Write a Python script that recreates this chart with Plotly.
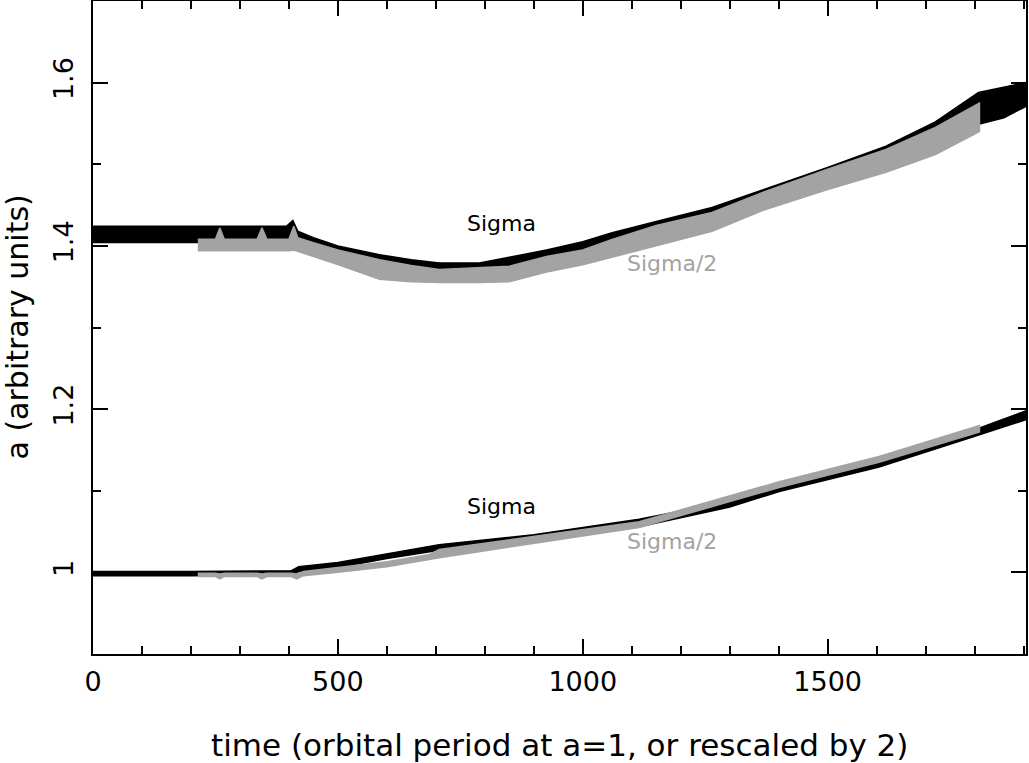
import plotly.graph_objects as go

# ---- data (time, band upper edge, band lower edge) ----
# upper pair, "Sigma" (black)
up_sig_t  = [0, 100, 200, 300, 395, 408, 418, 450, 500, 585, 650, 707, 789, 850, 926, 1000, 1060, 1150, 1264, 1370, 1500, 1619, 1720, 1808, 1860, 1905]
up_sig_hi = [1.424, 1.424, 1.424, 1.424, 1.424, 1.431, 1.418, 1.410, 1.400, 1.389, 1.383, 1.379, 1.379, 1.386, 1.395, 1.405, 1.416, 1.430, 1.447, 1.469, 1.496, 1.522, 1.552, 1.588, 1.594, 1.600]
up_sig_lo = [1.404, 1.404, 1.404, 1.404, 1.404, 1.405, 1.403, 1.398, 1.389, 1.375, 1.371, 1.368, 1.366, 1.372, 1.381, 1.389, 1.399, 1.412, 1.428, 1.450, 1.472, 1.495, 1.520, 1.549, 1.557, 1.571]

# upper pair, "Sigma/2" (grey)
up_half_t  = [214, 250, 259, 268, 335, 345, 355, 400, 410, 418, 450, 500, 585, 650, 707, 789, 850, 926, 1000, 1060, 1150, 1264, 1370, 1500, 1619, 1720, 1810]
up_half_hi = [1.408, 1.408, 1.422, 1.408, 1.408, 1.422, 1.408, 1.408, 1.424, 1.410, 1.404, 1.395, 1.383, 1.376, 1.371, 1.373, 1.375, 1.387, 1.395, 1.408, 1.425, 1.441, 1.466, 1.494, 1.518, 1.545, 1.575]
up_half_lo = [1.394, 1.394, 1.394, 1.394, 1.394, 1.394, 1.394, 1.394, 1.395, 1.393, 1.387, 1.377, 1.359, 1.356, 1.355, 1.355, 1.356, 1.368, 1.377, 1.386, 1.400, 1.418, 1.444, 1.469, 1.490, 1.512, 1.540]

# lower pair, "Sigma" (black)
lo_sig_t  = [0, 200, 405, 420, 500, 600, 707, 900, 1115, 1300, 1401, 1605, 1802, 1905]
lo_sig_hi = [1.001, 1.001, 1.002, 1.007, 1.012, 1.023, 1.034, 1.046, 1.065, 1.087, 1.107, 1.136, 1.175, 1.198]
lo_sig_lo = [0.996, 0.996, 0.997, 1.001, 1.006, 1.017, 1.027, 1.040, 1.056, 1.080, 1.099, 1.129, 1.167, 1.187]

# lower pair, "Sigma/2" (grey)
lo_half_t  = [214, 250, 259, 268, 335, 345, 355, 405, 416, 430, 500, 600, 687, 707, 1115, 1401, 1605, 1810]
lo_half_hi = [0.999, 0.999, 0.998, 0.999, 0.999, 0.998, 0.999, 0.999, 0.998, 1.001, 1.006, 1.013, 1.022, 1.028, 1.062, 1.111, 1.142, 1.180]
lo_half_lo = [0.995, 0.995, 0.992, 0.995, 0.995, 0.992, 0.995, 0.995, 0.992, 0.996, 1.000, 1.007, 1.016, 1.018, 1.055, 1.104, 1.135, 1.172]

labels = [
    # text, x, y, colour-key
    ("Sigma", 834, 1.427, "k"),
    ("Sigma/2", 1182, 1.379, "g"),
    ("Sigma", 834, 1.081, "k"),
    ("Sigma/2", 1182, 1.038, "g"),
]

x_title = "time (orbital period at a=1, or rescaled by 2)"
y_title = "a (arbitrary units)"

BLACK = "#000000"
GREY = "#a3a3a3"
FONT = "DejaVu Sans"

fig = go.Figure()

def band(t, hi, lo, color):
    fig.add_trace(go.Scatter(
        x=list(t) + list(t)[::-1],
        y=list(hi) + list(lo)[::-1],
        fill="toself", fillcolor=color,
        line=dict(color=color, width=1.5),
        mode="lines", hoverinfo="skip", showlegend=False,
    ))

band(up_sig_t, up_sig_hi, up_sig_lo, BLACK)
band(lo_sig_t, lo_sig_hi, lo_sig_lo, BLACK)
band(up_half_t, up_half_hi, up_half_lo, GREY)
band(lo_half_t, lo_half_hi, lo_half_lo, GREY)

for txt, x, y, c in labels:
    fig.add_annotation(x=x, y=y, text=txt, showarrow=False,
                       font=dict(family=FONT, size=22, color=BLACK if c == "k" else GREY),
                       xanchor="center", yanchor="middle")

# axis titles
fig.add_annotation(xref="paper", yref="paper", x=0.5, y=0, yshift=-91,
                   text=x_title, showarrow=False,
                   font=dict(family=FONT, size=31, color=BLACK),
                   xanchor="center", yanchor="middle")
fig.add_annotation(xref="paper", yref="paper", x=0, y=0.5, xshift=-76,
                   text=y_title, showarrow=False, textangle=-90,
                   font=dict(family=FONT, size=30, color=BLACK),
                   xanchor="center", yanchor="middle")

axis_common = dict(
    showgrid=False, zeroline=False, automargin=False,
    showline=True, linecolor=BLACK, linewidth=2, mirror="allticks",
    ticks="inside", tickcolor=BLACK, tickwidth=2, ticklen=15,
    tickfont=dict(family=FONT, size=27, color=BLACK),
)

fig.update_xaxes(range=[0, 1905], tickmode="array", tickvals=[0, 500, 1000, 1500],
                 ticktext=["0", "500", "1000", "1500"],
                 minor=dict(dtick=100, tick0=0, ticks="inside", ticklen=8, tickwidth=2, tickcolor=BLACK),
                 ticklabelstandoff=3, **axis_common)
fig.update_yaxes(range=[0.9, 1.7], tickmode="array", tickvals=[1.0, 1.2, 1.4, 1.6],
                 ticktext=["1", "1.2", "1.4", "1.6"], tickangle=-90,
                 minor=dict(dtick=0.1, tick0=0.9, ticks="inside", ticklen=8, tickwidth=2, tickcolor=BLACK),
                 ticklabelstandoff=7, **axis_common)

fig.update_layout(
    width=1029, height=763,
    margin=dict(l=93, r=3, t=1, b=109),
    paper_bgcolor="white", plot_bgcolor="white",
    showlegend=False,
)

fig.write_html("out.html",
               config={"displayModeBar": False},
               post_script="document.body.style.margin='0';document.body.style.overflow='hidden';")
